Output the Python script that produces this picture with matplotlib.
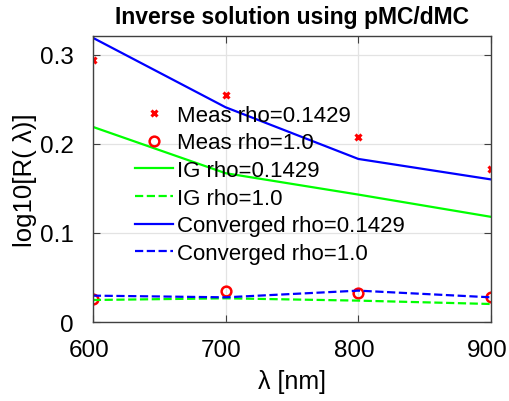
import numpy as np
import matplotlib
matplotlib.use("Agg")
import matplotlib.pyplot as plt
import matplotlib.transforms as mtransforms

plt.rcParams['font.family'] = ['Liberation Sans', 'DejaVu Sans']

# --- data ---
wavelengths = [600, 700, 800, 900]
meas_rho01429 = [0.294, 0.255, 0.208, 0.172]
meas_rho10 = [0.0258, 0.0352, 0.0322, 0.0277]
ig_rho01429 = [0.219, 0.167, 0.143, 0.118]
ig_rho10 = [0.0247, 0.0266, 0.0240, 0.0202]
conv_rho01429 = [0.319, 0.241, 0.183, 0.160]
conv_rho10 = [0.0296, 0.0277, 0.0352, 0.0277]

fig = plt.figure(figsize=(5.10, 4.02), dpi=100)
ax = fig.add_axes([0.182, 0.1965, 0.781, 0.7115])

ax.plot(wavelengths, meas_rho01429, 'x', color='red', ms=5, mew=2.2, label='Meas rho=0.1429')
ax.plot(wavelengths, meas_rho10, 'o', color='red', mfc='none', ms=7, mew=1.8, label='Meas rho=1.0')
ax.plot(wavelengths, ig_rho01429, '-', color='#00ff00', lw=1.6, label='IG rho=0.1429')
ax.plot(wavelengths, ig_rho10, '--', color='#00ff00', lw=1.6, label='IG rho=1.0')
ax.plot(wavelengths, conv_rho01429, '-', color='blue', lw=1.6, label='Converged rho=0.1429')
ax.plot(wavelengths, conv_rho10, '--', color='blue', lw=1.6, label='Converged rho=1.0')

ax.set_xlim(600, 900)
ax.set_ylim(0, 0.321)
ax.set_xticks([600, 700, 800, 900])
ax.set_yticks([0, 0.1, 0.2, 0.3])
ax.set_yticklabels(['0', '0.1', '0.2', '0.3'])
ax.grid(True, color='#e3e3e3', lw=0.9)
ax.set_axisbelow(True)
ax.tick_params(direction='in', top=True, right=True, labelsize=17.5, length=5,
               color='#404040')
ax.tick_params(axis='x', pad=12)
ax.tick_params(axis='y', pad=14)
for s in ax.spines.values():
    s.set_color('#404040')
    s.set_linewidth(1.0)

# x tick labels sit a little left of their ticks in the reference
shift = mtransforms.ScaledTranslation(-0.04, 0, fig.dpi_scale_trans)
for lbl in ax.get_xticklabels():
    lbl.set_transform(lbl.get_transform() + shift)

ax.set_title('Inverse solution using pMC/dMC', fontsize=16.5, fontweight='bold', pad=9)
ax.set_xlabel('λ [nm]', fontsize=18, labelpad=6)
ax.set_ylabel('log10[R( λ)]', fontsize=18.5, labelpad=2)

ax.legend(loc='upper left', bbox_to_anchor=(0.105, 0.760), frameon=False,
          fontsize=16, borderpad=0, borderaxespad=0, labelspacing=0.30,
          handlelength=1.71, handletextpad=0.18)

fig.savefig('out.png', dpi=100)
